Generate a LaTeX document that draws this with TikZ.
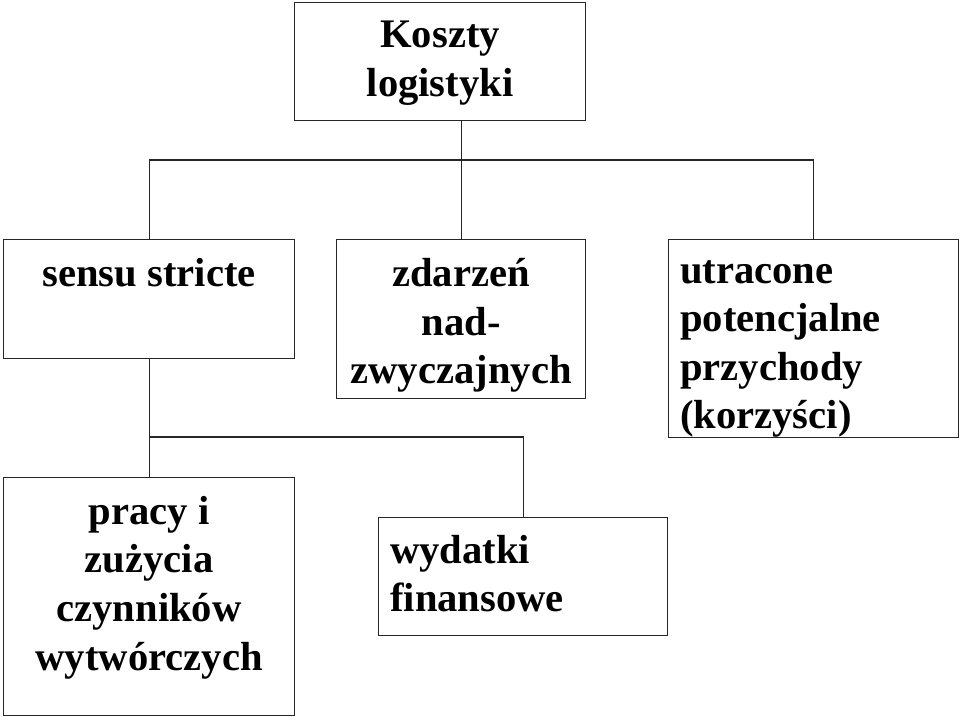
\documentclass[tikz,border=0pt]{standalone}
\usepackage{fontspec}
\setmainfont{Liberation Serif}
\begin{document}
\begin{tikzpicture}[x=1pt,y=-1pt,
  box/.style={draw=black!85,line width=1.2pt,rectangle,inner sep=0pt,anchor=north west},
  txt/.style={inner sep=0pt,font=\fontsize{40.6}{48.6}\selectfont\bfseries},
  conn/.style={draw=black!85,line width=1.2pt}]
\useasboundingbox (0,0) rectangle (960,716);
% boxes
\node[box,minimum width=291pt,minimum height=118pt] (k) at (294,2) {};
\node[box,minimum width=291pt,minimum height=119pt] (ss) at (3,239) {};
\node[box,minimum width=249pt,minimum height=159pt] (zd) at (336,239) {};
\node[box,minimum width=290pt,minimum height=198pt] (ut) at (668,239) {};
\node[box,minimum width=291pt,minimum height=238pt] (pr) at (3,477) {};
\node[box,minimum width=289pt,minimum height=118pt] (wd) at (378,517) {};
% texts
\node[txt,anchor=north,align=center] (kt) at ([yshift=-19pt]k.north) {Koszty\\logistyki};
\node[txt,anchor=north,align=center] (sst) at ([yshift=-19pt]ss.north) {sensu stricte};
\node[txt,anchor=north,align=center] (zdt) at ([yshift=-19pt]zd.north) {zdarzeń\\nad-\\zwyczajnych};
\node[txt,anchor=north west,align=left] (utt) at ([xshift=12pt,yshift=-21pt]ut.north west) {utracone\\potencjalne\\przychody\\(korzyści)};
\node[txt,anchor=north,align=center] (prt) at ([yshift=-19pt]pr.north) {pracy i\\zużycia\\czynników\\wytwórczych};
\node[txt,anchor=north west,align=left] (wdt) at ([xshift=12pt,yshift=-18pt]wd.north west) {wydatki\\finansowe};
% connectors
\coordinate (b1) at (0,160);
\coordinate (b2) at (0,437);
\draw[conn] (k.south -| zd.north) -- (zd.north);
\draw[conn] (ss.north) |- (b1 -| ut.north) -- (ut.north);
\draw[conn] (ss.south) -- (pr.north);
\draw[conn] (ss.south |- b2) -| (wd.north);
\end{tikzpicture}
\end{document}
